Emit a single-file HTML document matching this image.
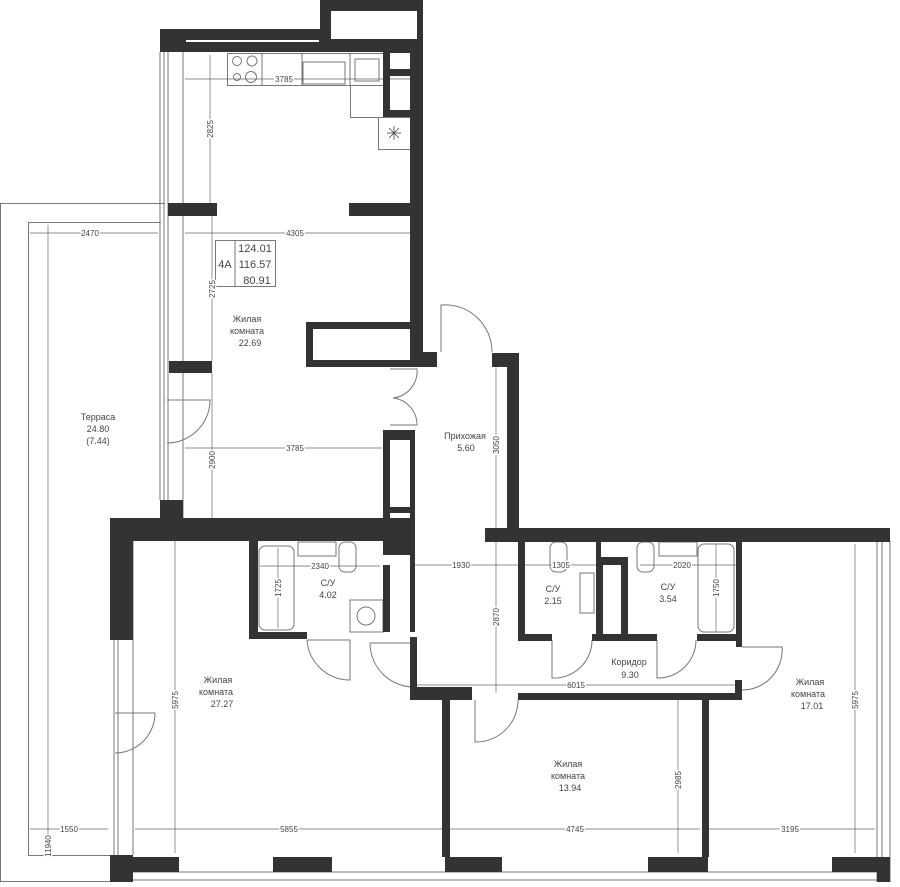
<!DOCTYPE html>
<html><head><meta charset="utf-8"><style>
body{margin:0;background:#fff}
svg text{font-family:"Liberation Sans",sans-serif;fill:#444}
.d text{paint-order:stroke;stroke:#fff;stroke-width:3px}
</style></head><body>
<svg width="900" height="882" viewBox="0 0 900 882" xmlns="http://www.w3.org/2000/svg">
<g fill="none" stroke="#777" stroke-width="1">
<!-- terrace -->
<path d="M110 881.5H0.5V203.5H165"/>
<path d="M110 855.5H28.5V222.5H161"/>
<!-- left windows -->
<line x1="160" y1="52" x2="160" y2="500"/><line x1="164" y1="52" x2="164" y2="500"/>
<line x1="168" y1="52" x2="168" y2="500"/><line x1="183" y1="52" x2="183" y2="528"/>
<line x1="114" y1="640" x2="114" y2="855"/><line x1="118" y1="640" x2="118" y2="855"/><line x1="133" y1="541" x2="133" y2="855"/>
<line x1="877" y1="541" x2="877" y2="882"/><line x1="882" y1="541" x2="882" y2="882"/><line x1="890" y1="541" x2="890" y2="882"/>
<line x1="133" y1="872" x2="877" y2="872"/><line x1="133" y1="880" x2="877" y2="880"/>
<!-- kitchen -->
<rect x="227.5" y="53.5" width="156" height="32"/>
<line x1="262" y1="53" x2="262" y2="85"/><line x1="302" y1="53" x2="302" y2="85"/><line x1="350" y1="53" x2="350" y2="85"/>
<rect x="350.5" y="85.5" width="33" height="32"/>
<rect x="378.5" y="117.5" width="32" height="32"/>
<circle cx="237" cy="61" r="4.5"/><circle cx="252" cy="61" r="5"/><circle cx="237" cy="77" r="3.5"/><circle cx="251" cy="77" r="5.5"/>
<rect x="303" y="62" width="42" height="22"/>
<rect x="355" y="59" width="24" height="22"/>
<!-- info box -->
<rect x="215.5" y="240.5" width="60" height="46"/><line x1="235" y1="240" x2="235" y2="286"/>
<!-- bathroom fixtures -->
<rect x="259" y="546" width="35" height="84" rx="6"/>
<rect x="298" y="542" width="38" height="14"/>
<rect x="339" y="542" width="17" height="30" rx="6"/>
<rect x="350" y="600" width="33" height="32"/><circle cx="366" cy="616" r="9"/>
<rect x="550" y="542" width="17" height="30" rx="6"/><rect x="637" y="542" width="17" height="30" rx="6"/>
<rect x="659" y="542" width="38" height="14"/>
<rect x="698" y="544" width="36" height="88" rx="6"/>
<rect x="580" y="573" width="14" height="40"/>
<!-- doors -->
<path d="M167 400 L210 400 A43 43 0 0 1 167 443"/>
<path d="M115 713 L155 713 A40 40 0 0 1 115 753"/>
<path d="M441 352 L441 305 A47 47 0 0 1 492 352"/>
<path d="M390 369 L417 369 A27 27 0 0 1 393 398 A27 27 0 0 1 417 425 L390 425"/>
<path d="M307 640 L350 640 L350 680 A43 43 0 0 1 307 640"/>
<path d="M370 643 L413 643 L413 687 A44 44 0 0 1 370 643"/>
<path d="M552 640 L552 678 A38 38 0 0 0 592 640"/>
<path d="M657 640 L657 678 A38 38 0 0 0 696 640"/>
<path d="M742 647 L782 647 A40 40 0 0 1 742 690"/>
<path d="M475 700 L475 742 A42 42 0 0 0 518 700"/>
</g>
<!-- dimension lines -->
<g stroke="#666" stroke-width="0.7">
<line x1="185" y1="79" x2="410" y2="79"/><line x1="210" y1="55" x2="210" y2="203"/>
<line x1="185" y1="233" x2="410" y2="233"/><line x1="30" y1="233" x2="158" y2="233"/>
<line x1="212" y1="216" x2="212" y2="361"/><line x1="212" y1="373" x2="212" y2="528"/>
<line x1="185" y1="448" x2="382" y2="448"/><line x1="496" y1="367" x2="496" y2="528"/>
<line x1="48" y1="225" x2="48" y2="853"/><line x1="175" y1="541" x2="175" y2="853"/>
<line x1="260" y1="566" x2="380" y2="566"/><line x1="278" y1="548" x2="278" y2="628"/>
<line x1="415" y1="565" x2="518" y2="565"/><line x1="496" y1="541" x2="496" y2="693"/>
<line x1="525" y1="565" x2="596" y2="565"/><line x1="640" y1="565" x2="736" y2="565"/><line x1="716" y1="544" x2="716" y2="632"/>
<line x1="417" y1="685" x2="740" y2="685"/>
<line x1="855" y1="544" x2="855" y2="853"/><line x1="678" y1="700" x2="678" y2="853"/>
<line x1="30" y1="829" x2="108" y2="829"/><line x1="135" y1="829" x2="442" y2="829"/>
<line x1="450" y1="829" x2="700" y2="829"/><line x1="709" y1="829" x2="875" y2="829"/>
</g>
<!-- walls -->
<g fill="#333">
<path d="M320 0H423V355H410V52H160V29H320Z"/>
<rect x="186" y="40" width="133" height="2" fill="#fff"/>
<rect x="331" y="11" width="86" height="28" fill="#fff"/>
<path d="M383 52H410V117H390V110H410V76H390V69H410V53H390V117H383Z"/>
<rect x="168" y="203" width="49" height="13"/><rect x="349" y="203" width="61" height="13"/>
<rect x="169" y="361" width="43" height="12"/>
<path d="M306 322H423V352H437V367H306ZM313 329V360H410V329Z" fill-rule="evenodd"/>
<path d="M383 430H415V528H383ZM390 440V507H410V440ZM390 513V525H410V513Z" fill-rule="evenodd"/>
<rect x="160" y="500" width="23" height="28"/>
<rect x="110" y="518" width="305" height="23"/>
<rect x="110" y="518" width="23" height="122"/>
<path d="M249 541H258V632H307V639H249Z"/>
<path d="M350 632H415V541H383V555H410V632H390V565H383V632H350Z" fill-rule="evenodd"/>
<path d="M492 353H519V528H507V367H492Z"/>
<rect x="485" y="528" width="405" height="14"/>
<path d="M518 541H525V634H552V641H518Z"/>
<path d="M596 541H601V557H628V634H657V641H592V634H596Z"/>
<rect x="603" y="565" width="18" height="69" fill="#fff"/>
<path d="M697 634H736V541H742V647H736V641H697Z"/>
<rect x="735" y="680" width="7" height="20"/>
<path d="M410 637H417V687H472V700H410Z"/>
<rect x="518" y="693" width="224" height="7"/>
<rect x="442" y="700" width="8" height="157"/><rect x="702" y="700" width="7" height="157"/>
<rect x="110" y="855" width="23" height="27"/>
<rect x="133" y="857" width="46" height="15"/><rect x="273" y="857" width="59" height="15"/>
<rect x="445" y="857" width="57" height="15"/><rect x="648" y="857" width="60" height="15"/>
<rect x="832" y="857" width="58" height="15"/><rect x="877" y="857" width="13" height="25"/>
</g>
<!-- text -->
<g font-size="9" text-anchor="middle">
<g class="d">
<text x="284" y="82" font-size="8">3785</text>
<text x="295" y="236" font-size="8">4305</text>
<text x="90" y="236" font-size="8">2470</text>
<text x="295" y="451" font-size="8">3785</text>
<text x="320" y="569" font-size="8">2340</text>
<text x="461" y="568" font-size="8">1930</text>
<text x="561" y="568" font-size="8">1305</text>
<text x="682" y="568" font-size="8">2020</text>
<text x="576" y="688" font-size="8">6015</text>
<text x="69" y="832" font-size="8">1550</text>
<text x="289" y="832" font-size="8">5855</text>
<text x="575" y="832" font-size="8">4745</text>
<text x="790" y="832" font-size="8">3195</text>
<text transform="translate(213,129) rotate(-90)" font-size="8">2825</text>
<text transform="translate(215,289) rotate(-90)" font-size="8">2725</text>
<text transform="translate(215,460) rotate(-90)" font-size="8">2900</text>
<text transform="translate(499,445) rotate(-90)" font-size="8">3050</text>
<text transform="translate(499,617) rotate(-90)" font-size="8">2870</text>
<text transform="translate(281,588) rotate(-90)" font-size="8">1725</text>
<text transform="translate(719,588) rotate(-90)" font-size="8">1750</text>
<text transform="translate(51,846) rotate(-90)" font-size="8">11940</text>
<text transform="translate(178,700) rotate(-90)" font-size="8">5975</text>
<text transform="translate(858,700) rotate(-90)" font-size="8">5975</text>
<text transform="translate(681,780) rotate(-90)" font-size="8">2985</text>
</g>
<text x="255" y="252" font-size="11">124.01</text>
<text x="255" y="268" font-size="11">116.57</text>
<text x="257" y="284" font-size="11">80.91</text>
<text x="225" y="268" font-size="11">4A</text>
<text x="247" y="322">Жилая</text><text x="247" y="334">комната</text><text x="250" y="346">22.69</text>
<text x="98" y="420">Терраса</text><text x="98" y="432">24.80</text><text x="98" y="444">(7.44)</text>
<text x="465" y="439">Прихожая</text><text x="466" y="451">5.60</text>
<text x="328" y="586">С/У</text><text x="328" y="598">4.02</text>
<text x="553" y="592">С/У</text><text x="553" y="604">2.15</text>
<text x="668" y="590">С/У</text><text x="668" y="602">3.54</text>
<text x="629" y="665">Коридор</text><text x="630" y="678">9.30</text>
<text x="218" y="683">Жилая</text><text x="216" y="695">комната</text><text x="222" y="707">27.27</text>
<text x="568" y="767">Жилая</text><text x="568" y="779">комната</text><text x="570" y="791">13.94</text>
<text x="810" y="685">Жилая</text><text x="808" y="697">комната</text><text x="812" y="709">17.01</text>
</g>
<g stroke="#444" stroke-width="0.8"><line x1="387" y1="133" x2="401" y2="133"/><line x1="394" y1="126" x2="394" y2="140"/><line x1="389" y1="128" x2="399" y2="138"/><line x1="399" y1="128" x2="389" y2="138"/></g>
</svg>
</body></html>
